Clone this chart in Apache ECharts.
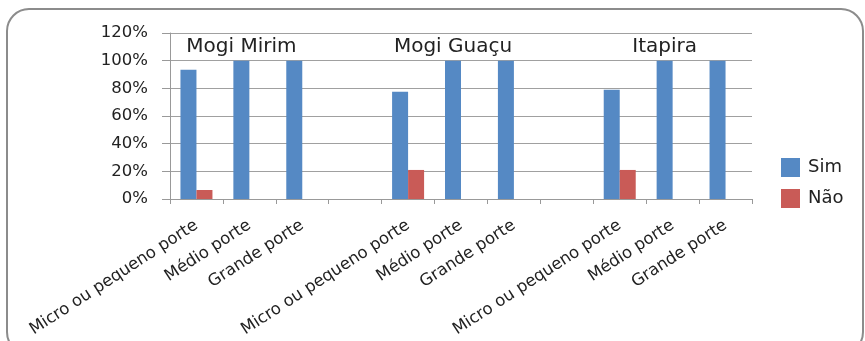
<!DOCTYPE html>
<html>
<head>
<meta charset="utf-8">
<script src="https://cdn.jsdelivr.net/npm/echarts@6/dist/echarts.min.js"></script>
<style>
html,body{margin:0;padding:0;background:#fff;}
#chart{width:865px;height:341px;}
</style>
</head>
<body>
<div id="chart"></div>
<script>
// Data
var categories = ['Micro ou pequeno porte','Médio porte','Grande porte','',
                  'Micro ou pequeno porte','Médio porte','Grande porte','',
                  'Micro ou pequeno porte','Médio porte','Grande porte'];
var simValues = [93.5, 100, 100, null, 77.5, 100, 100, null, 79, 100, 100];
var naoValues = [6.5, null, null, null, 21, null, null, null, 21, null, null];
var regionNames = ['Mogi Mirim', 'Mogi Guaçu', 'Itapira'];
var regionCategoryIndex = [1, 5, 9];
var regionLabelLevel = 110;
var yTicks = {min: 0, max: 120, interval: 20};

var FONT = 'DejaVu Sans';
var chart = echarts.init(document.getElementById('chart'), null, {renderer: 'canvas'});
var option = {
  animation: false,
  backgroundColor: '#fff',
  textStyle: {fontFamily: FONT},
  graphic: [{
    type: 'rect',
    shape: {x: 7, y: 9, width: 856, height: 345, r: 22},
    style: {fill: 'none', stroke: '#8c8c8c', lineWidth: 2},
    silent: true, z: -1
  }],
  legend: {
    orient: 'vertical',
    left: 776, top: 153,
    itemWidth: 19, itemHeight: 19, itemGap: 12,
    icon: 'rect',
    textStyle: {fontFamily: FONT, fontSize: 18, color: '#222', padding: [0,0,0,3]},
    data: ['Sim', 'Não']
  },
  grid: {left: 170, right: 113, top: 33, bottom: 142, containLabel: false},
  xAxis: {
    type: 'category',
    data: categories,
    axisLine: {lineStyle: {color: '#999', width: 1}},
    axisTick: {show: true, interval: 0, length: 5, lineStyle: {color: '#999'}},
    axisLabel: {interval: 0, rotate: 33, fontFamily: FONT, fontSize: 16.5, color: '#222', margin: 25}
  },
  yAxis: {
    type: 'value',
    min: yTicks.min, max: yTicks.max, interval: yTicks.interval,
    axisLine: {show: true, lineStyle: {color: '#999'}},
    axisTick: {show: true, length: 8, inside: false, lineStyle: {color: '#999'}},
    axisLabel: {formatter: '{value}%', fontFamily: FONT, fontSize: 16.5, color: '#222', margin: 22},
    splitLine: {show: true, lineStyle: {color: '#a0a0a0', width: 1}}
  },
  series: [{
    name: 'Sim',
    type: 'bar',
    data: simValues,
    barWidth: 16,
    barGap: '0%',
    itemStyle: {color: '#5589C4'},
    markPoint: {
      symbol: 'rect',
      symbolSize: 0,
      label: {show: true, position: 'inside', formatter: '{b}', fontFamily: FONT, fontSize: 20, color: '#222'},
      data: regionNames.map(function (n, i) {
        return {name: n, coord: [regionCategoryIndex[i], regionLabelLevel]};
      })
    }
  }, {
    name: 'Não',
    type: 'bar',
    data: naoValues,
    barWidth: 16,
    itemStyle: {color: '#C95B57'}
  }]
};
chart.setOption(option);
</script>
</body>
</html>
